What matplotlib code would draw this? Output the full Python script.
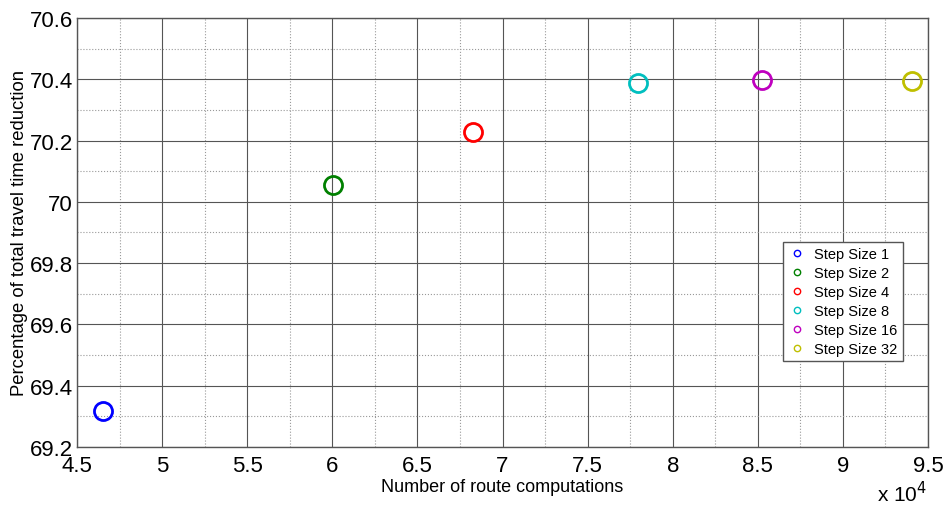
import matplotlib
matplotlib.use('Agg')
import matplotlib.pyplot as plt
from matplotlib.ticker import MultipleLocator

plt.rcParams['font.family'] = ['Liberation Sans', 'DejaVu Sans']

# route computations (x 10^4) and travel time reduction per step size
labels = ['Step Size 1', 'Step Size 2', 'Step Size 4', 'Step Size 8', 'Step Size 16', 'Step Size 32']
computations = [4.653, 6.004, 6.827, 7.796, 8.525, 9.406]
reduction = [69.317, 70.055, 70.227, 70.387, 70.398, 70.396]
colors = ['#0000ff', '#008000', '#ff0000', '#00bfbf', '#bf00bf', '#bfbf00']

fig = plt.figure(figsize=(9.44, 5.06), dpi=100)
ax = fig.add_axes([77/944, 1 - 448/506, 851/944, 429/506])

for x, y, c, lab in zip(computations, reduction, colors, labels):
    ax.plot([x], [y], 'o', mfc='none', mec=c, ms=13, mew=2, label=lab)

ax.set_xlim(4.5, 9.5)
ax.set_ylim(69.2, 70.6)
ax.xaxis.set_minor_locator(MultipleLocator(0.25))
ax.yaxis.set_minor_locator(MultipleLocator(0.1))
ax.set_xticks([4.5, 5, 5.5, 6, 6.5, 7, 7.5, 8, 8.5, 9, 9.5])
ax.set_xticklabels(['4.5', '5', '5.5', '6', '6.5', '7', '7.5', '8', '8.5', '9', '9.5'])
ax.set_yticks([69.2, 69.4, 69.6, 69.8, 70.0, 70.2, 70.4, 70.6])
ax.set_yticklabels(['69.2', '69.4', '69.6', '69.8', '70', '70.2', '70.4', '70.6'])

ax.grid(which='major', color='#555555', linestyle='-', linewidth=0.8)
ax.grid(which='minor', color='#999999', linestyle=':', linewidth=0.8)
ax.tick_params(which='both', length=0, labelsize=16)
ax.tick_params(axis='x', pad=6)
ax.tick_params(axis='y', pad=3)
for s in ax.spines.values():
    s.set_color('#555555')
    s.set_linewidth(1)

ax.set_xlabel('Number of route computations', fontsize=13, labelpad=1)
ax.set_ylabel('Percentage of total travel time reduction', fontsize=13.3, labelpad=1)
fig.text(877/944, 1 - 502/506, 'x 10$^{4}$', fontsize=15, ha='left', va='baseline')

leg = ax.legend(loc='upper left', bbox_to_anchor=(706/851, (448-243)/429), fontsize=10.5,
                markerscale=0.35, handlelength=1.2, handletextpad=0.6,
                borderpad=0.35, labelspacing=0.34, borderaxespad=0,
                fancybox=False, framealpha=1)
leg.get_frame().set_edgecolor('#555555')
for h in leg.legend_handles:
    h.set_markeredgewidth(1)

fig.savefig('out.png', dpi=100)
